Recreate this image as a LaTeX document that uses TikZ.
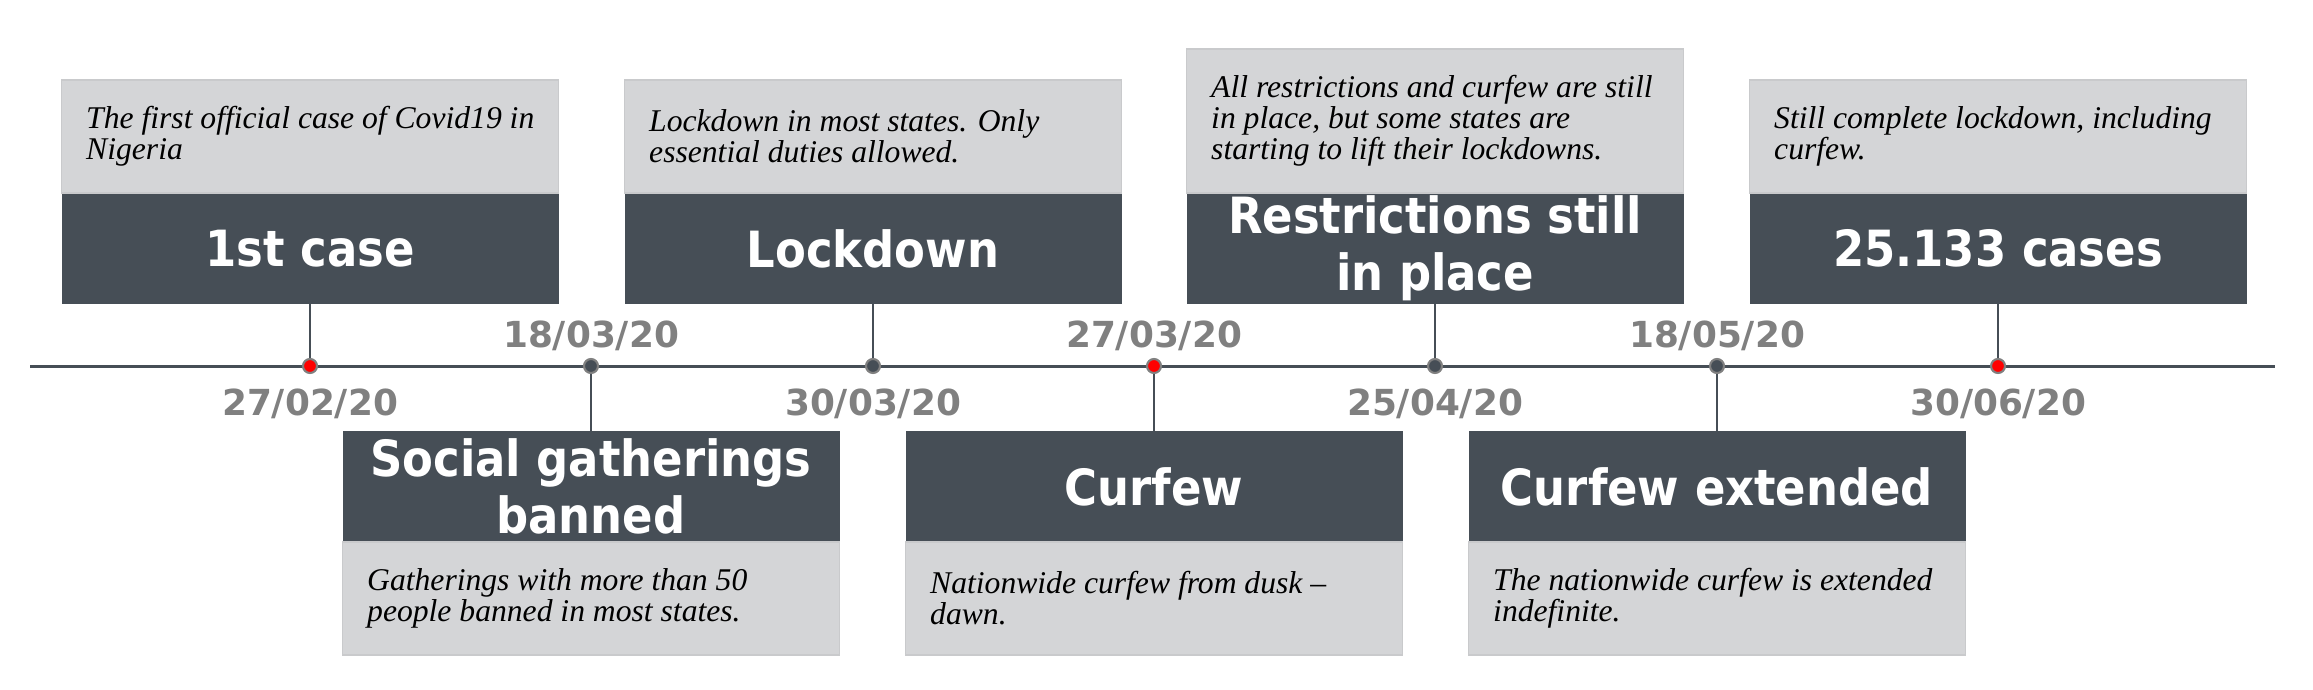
\documentclass[tikz,border=0pt]{standalone}
\usepackage{fontspec}
\setmainfont{Liberation Serif}
\newfontfamily\titulofonte{DejaVu Sans Condensed}
\newfontfamily\datafonte{DejaVu Sans}
\usepackage{tikz}
\usetikzlibrary{
  positioning
}
\definecolor{escuro}{HTML}{464E56}
\definecolor{cinza}{HTML}{D4D5D7}
\definecolor{borda}{HTML}{C9CACC}
\definecolor{datacor}{HTML}{808080}
\definecolor{vermelho}{HTML}{FF0000}

\begin{document}
\begin{tikzpicture}[
      x=0.1mm, y=-0.1mm,
      titulo/.style={fill=escuro, text=white, minimum width=49.7mm, minimum height=11.1mm,
                     inner sep=0pt, outer sep=0pt, align=center,
                     font=\titulofonte\bfseries\fontsize{14.2}{16.2}\selectfont},
      caixa/.style={fill=cinza, draw=borda, line width=0.4pt, minimum width=49.7mm,
                    minimum height=11.3mm, inner sep=0pt, outer sep=0pt},
      texto/.style={inner sep=0pt, align=left, font=\itshape\fontsize{9}{8.8}\selectfont},
      data/.style={text=datacor, inner sep=0pt, font=\datafonte\bfseries\fontsize{10.2}{12}\selectfont},
      marco/.style={circle, draw=datacor, line width=0.6pt, minimum size=1.4mm, inner sep=0pt},
      linha/.style={escuro, line width=0.85pt},
      haste/.style={escuro, line width=0.35pt}
  ]
      \useasboundingbox (0,0) rectangle (2313,689);

      % Linha do tempo
      \coordinate (ini) at (30,366);
      \coordinate (fim) at (2275,366);
      \draw[linha] (ini) -- (fim);

      % Marcos
      \node[marco, fill=vermelho] (d1) at (310,366)  {};
      \node[marco, fill=escuro]   (d2) at (591,366)  {};
      \node[marco, fill=escuro]   (d3) at (873,366)  {};
      \node[marco, fill=vermelho] (d4) at (1154,366) {};
      \node[marco, fill=escuro]   (d5) at (1435,366) {};
      \node[marco, fill=escuro]   (d6) at (1717,366) {};
      \node[marco, fill=vermelho] (d7) at (1998,366) {};

      % Datas
      \node[data] (l1) at (310,404)  {27/02/20};
      \node[data] (l2) at (591,336)  {18/03/20};
      \node[data] (l3) at (873,404)  {30/03/20};
      \node[data] (l4) at (1154,336) {27/03/20};
      \node[data] (l5) at (1435,404) {25/04/20};
      \node[data] (l6) at (1717,336) {18/05/20};
      \node[data] (l7) at (1998,404) {30/06/20};

      % Eventos acima da linha
      \node[titulo] (t1) at (310,248.5) {1st case};
      \node[caixa, above=0pt of t1] (g1) {};
      \node[texto, right=2.4mm of g1.west] (x1) {The first official case of Covid19 in\\Nigeria};

      \node[titulo] (t3) at (873,248.5) {Lockdown};
      \node[caixa, above=0pt of t3] (g3) {};
      \node[texto, right=2.4mm of g3.west] (x3) {Lockdown in most states. Only\\essential duties allowed.};

      \node[titulo] (t5) at (1435,248.5) {Restrictions still\\in place};
      \node[caixa, minimum height=14.4mm, above=0pt of t5] (g5) {};
      \node[texto, right=2.4mm of g5.west] (x5) {All restrictions and curfew are still\\in place, but some states are\\starting to lift their lockdowns.};

      \node[titulo] (t7) at (1998,248.5) {25.133 cases};
      \node[caixa, above=0pt of t7] (g7) {};
      \node[texto, right=2.4mm of g7.west] (x7) {Still complete lockdown, including\\curfew.};

      % Eventos abaixo da linha
      \node[titulo] (t2) at (591,486.5) {Social gatherings\\banned};
      \node[caixa, below=0pt of t2] (g2) {};
      \node[texto, right=2.4mm of g2.west] (x2) {Gatherings with more than 50\\people banned in most states.};

      \node[titulo] (t4) at (1154,486.5) {Curfew};
      \node[caixa, below=0pt of t4] (g4) {};
      \node[texto, right=2.4mm of g4.west] (x4) {Nationwide curfew from dusk --\\dawn.};

      \node[titulo] (t6) at (1717,486.5) {Curfew extended};
      \node[caixa, below=0pt of t6] (g6) {};
      \node[texto, right=2.4mm of g6.west] (x6) {The nationwide curfew is extended\\indefinite.};

      % Hastes
      \draw[haste] (t1.south) -- (d1);
      \draw[haste] (d2) -- (t2.north);
      \draw[haste] (t3.south) -- (d3);
      \draw[haste] (d4) -- (t4.north);
      \draw[haste] (t5.south) -- (d5);
      \draw[haste] (d6) -- (t6.north);
      \draw[haste] (t7.south) -- (d7);
  \end{tikzpicture}
\end{document}
